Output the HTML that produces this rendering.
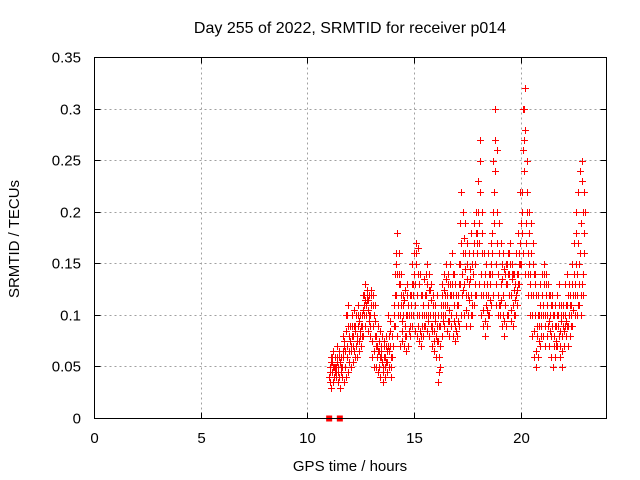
<!DOCTYPE html>
<html><head><meta charset="utf-8"><style>
body{margin:0;background:#fff;}
svg{display:block;font-family:"Liberation Sans",sans-serif;}
</style></head><body>
<svg id="chart" width="640" height="480" viewBox="0 0 640 480">
<rect width="640" height="480" fill="#fff"/>
<text x="350" y="33" font-size="16" text-anchor="middle">Day 255 of 2022, SRMTID for receiver p014</text>
<text transform="translate(19,239) rotate(-90)" font-size="15" text-anchor="middle">SRMTID / TECUs</text>
<text x="350" y="471" font-size="15" text-anchor="middle">GPS time / hours</text>
<g id="grid"></g>
<g id="ticks"></g>
<g id="points"></g>
<rect x="94.5" y="57.5" width="512" height="361" fill="none" stroke="#000" stroke-width="1"/>
</svg>
<script>
const xTicks=[0,5,10,15,20];
const yTicks=[0,0.05,0.1,0.15,0.2,0.25,0.3,0.35];
const yTickLabels=["0","0.05","0.1","0.15","0.2","0.25","0.3","0.35"];
const tStart=11.0, tStep=0.1;
const seriesLo=[.04,.03,.035,.04,.035,.03,.04,.035,.04,.045,.05,.055,.06,.06,.065,.07,.08,.09,.085,.08,.06,.05,.05,.045,.04,.035,.04,.045,.05,.04,.07,.09,.08,.07,.075,.07,.065,.07,.08,.09,.085,.08,.075,.07,.08,.09,.085,.08,.07,.065,.06,.035,.07,.08,.09,.085,.08,.09,.08,.075,.08,.09,.1,.1,.09,.1,.09,.1,.11,.12,.13,.1,.09,.08,.09,.1,.11,.12,.11,.1,.1,.09,.08,.09,.1,.095,.09,.1,.11,.13,.15,.16,.14,.12,.1,.08,.06,.05,.06,.07,.08,.07,.08,.07,.06,.05,.06,.07,.06,.05,.07,.08,.07,.08,.09,.1,.1,.11,.1,.12];
const seriesMid=[.05,.045,.05,.045,.05,.045,.06,.065,.07,.065,.07,.08,.085,.09,.08,.09,.1,.11,.105,.1,.09,.08,.07,.065,.06,.05,.06,.065,.07,.06,.1,.12,.11,.1,.095,.09,.1,.1,.11,.12,.13,.12,.1,.09,.1,.12,.11,.1,.09,.085,.09,.06,.1,.11,.12,.11,.105,.12,.11,.1,.11,.13,.14,.13,.12,.13,.12,.14,.15,.17,.19,.14,.12,.11,.12,.13,.16,.19,.15,.14,.13,.12,.11,.13,.14,.12,.11,.13,.14,.17,.22,.24,.19,.16,.14,.12,.1,.08,.09,.1,.11,.1,.11,.1,.09,.08,.09,.1,.085,.08,.1,.11,.1,.11,.12,.13,.14,.15,.13,.16];
const seriesHi=[.06,.065,.06,.07,.065,.06,.08,.1,.11,.09,.1,.105,.1,.11,.1,.12,.13,.125,.12,.125,.12,.11,.09,.085,.08,.075,.08,.1,.095,.08,.14,.18,.16,.14,.12,.125,.13,.12,.15,.16,.17,.165,.14,.12,.135,.15,.14,.13,.12,.11,.12,.09,.13,.14,.15,.14,.15,.16,.14,.12,.15,.22,.2,.19,.17,.16,.18,.19,.2,.23,.27,.2,.16,.15,.16,.17,.25,.3,.26,.19,.17,.16,.15,.16,.17,.15,.14,.16,.18,.22,.3,.32,.25,.2,.19,.17,.14,.12,.13,.14,.15,.14,.13,.12,.12,.11,.12,.13,.11,.11,.13,.14,.12,.15,.17,.2,.22,.24,.25,.22];
const seriesExtra=[.055,.05,.045,.055,.06,.04,.07,.085,.09,.075,.08,.09,.075,.095,.09,.105,.115,.12,.1,.11,.1,.07,.065,.06,.055,.06,.07,.08,.06,.07,.12,.14,.13,.12,.11,.1,.11,.09,.13,.14,.15,.14,.12,.11,.12,.13,.125,.115,.1,.1,.1,.05,.12,.125,.135,.13,.12,.14,.13,.11,.13,.17,.16,.16,.15,.145,.15,.17,.18,.2,.22,.16,.14,.13,.14,.15,.2,.24,.2,.16,.15,.145,.13,.14,.15,.135,.125,.14,.16,.19,.26,.28,.22,.18,.16,.14,.12,.1,.11,.12,.13,.12,.12,.11,.1,.09,.1,.11,.1,.09,.11,.12,.11,.13,.14,.15,.17,.19,.2,.2];
const seriesA=[.045,.06,.04,.05,.045,.055,.05,.075,.06,.08,.065,.07,.09,.08,.075,.1,.11,.1,.115,.09,.075,.065,.08,.05,.07,.045,.05,.055,.065,.05,.09,.15,.1,.13,.085,.115,.08,.11,.1,.13,.11,.1,.13,.08,.11,.1,.095,.125,.085,.075,.08,.075,.09,.095,.11,.12,.095,.1,.12,.09,.095,.15,.12,.175,.105,.12,.135,.11,.13,.16,.17,.12,.105,.095,.105,.115,.14,.22,.13,.12,.11,.135,.095,.15,.12,.105,.14,.115,.125,.15,.2,.27,.17,.14,.13,.1,.085,.065,.075,.09,.1,.09,.1,.095,.08,.07,.075,.09,.07,.065,.085,.095,.09,.1,.105,.12,.12,.13,.12,.14];
const seriesB=[.035,.055,.05,.06,.04,.05,.065,.05,.1,.055,.09,.065,.07,.1,.085,.08,.12,.115,.095,.12,.11,.095,.06,.075,.065,.07,.055,.07,.085,.06,.11,.16,.14,.11,.1,.08,.12,.085,.12,.1,.16,.09,.085,.1,.09,.14,.1,.09,.11,.095,.075,.045,.11,.1,.1,.095,.13,.13,.095,.085,.12,.19,.125,.145,.135,.115,.1,.16,.12,.18,.25,.18,.13,.12,.1,.14,.18,.27,.17,.11,.115,.1,.14,.1,.16,.14,.1,.12,.13,.15,.18,.3,.2,.15,.12,.15,.13,.09,.1,.08,.14,.13,.09,.085,.11,.1,.07,.08,.095,.1,.09,.09,.13,.09,.12,.18,.11,.16,.23,.18];
const zeroTimes=[11.0,11.5];

const X0=94.5,X1=606.5,Y0=418.5,Y1=57.5;
const xs=v=>X0+(v/24)*(X1-X0);
const ys=v=>Y0-(v/0.35)*(Y0-Y1);
const NS="http://www.w3.org/2000/svg";
function mk(tag,attrs,parent){const e=document.createElementNS(NS,tag);for(const k in attrs)e.setAttribute(k,attrs[k]);parent.appendChild(e);return e;}
const grid=document.getElementById('grid'),ticks=document.getElementById('ticks'),pts=document.getElementById('points');
xTicks.forEach(v=>{const x=Math.round(xs(v)-0.5)+0.5;
 if(v>0){const g=mk('line',{x1:x,x2:x,y1:Y1,y2:Y0,stroke:'#a0a0a0','stroke-dasharray':'2,3'},grid);
 
 }
 mk('line',{x1:x,x2:x,y1:Y0,y2:Y0-6,stroke:'#000'},ticks);
 mk('line',{x1:x,x2:x,y1:Y1,y2:Y1+6,stroke:'#000'},ticks);
 const t=mk('text',{x:x,y:443,'font-size':15,'text-anchor':'middle'},ticks);t.textContent=v;
 
 });
yTicks.forEach((v,i)=>{const y=Math.round(ys(v)-0.5)+0.5;
 if(v>0&&v<0.35){const g=mk('line',{x1:X0,x2:X1,y1:y,y2:y,stroke:'#a0a0a0','stroke-dasharray':'2,3'},grid);
 
 }
 mk('line',{x1:X0,x2:X0+6,y1:y,y2:y,stroke:'#000'},ticks);
 mk('line',{x1:X1,x2:X1-6,y1:y,y2:y,stroke:'#000'},ticks);
 const t=mk('text',{x:81,y:y+5,'font-size':15,'text-anchor':'end'},ticks);t.textContent=yTickLabels[i];
 
 });
function plus(t,v,col){const x=Math.round(xs(t))+0.5,y=Math.round(ys(v))+0.5;
 const p=mk('path',{d:`M${x-3.5},${y}H${x+3.5}M${x},${y-3.5}V${y+3.5}`,stroke:col,'stroke-width':1,fill:'none'},pts);
 
 }
const all=[seriesLo,seriesA,seriesMid,seriesB,seriesHi,seriesExtra];
all.forEach((s,k)=>s.forEach((v,i)=>plus(tStart+i*tStep+k*0.0167,v,'#ff0000')));
zeroTimes.forEach(t=>{const x=xs(t);const r=mk('rect',{x:x-3,y:Y0-3,width:6,height:6,fill:'#ff0000'},pts);
 
 });
</script>
</body></html>
